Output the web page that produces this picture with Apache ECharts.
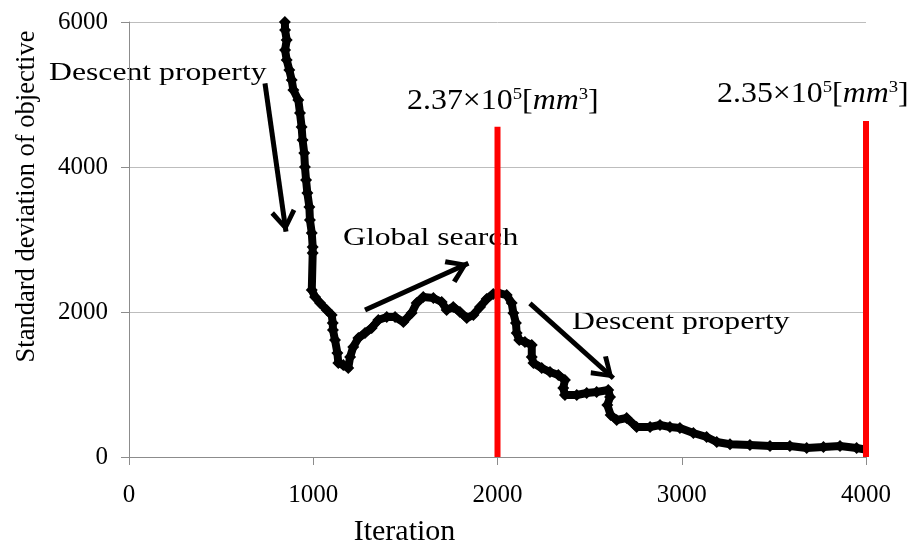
<!DOCTYPE html>
<html>
<head>
<meta charset="utf-8">
<script src="https://cdn.jsdelivr.net/npm/echarts@6/dist/echarts.min.js"></script>
<style>
html,body{margin:0;padding:0;background:#fff;}
#chart{width:918px;height:546px;}
</style>
</head>
<body>
<div id="chart"></div>
<script>
// ---- data ----
const iterations = [846,847,856,847,856,870,883,892,919,928,937,942,951,955,961,968,979,982,992,997,997,992,1010,1037,1073,1100,1106,1107,1118,1131,1136,1163,1190,1200,1217,1245,1281,1317,1353,1399,1444,1489,1534,1561,1597,1652,1697,1724,1760,1796,1833,1869,1905,1941,1977,2005,2050,2077,2086,2100,2104,2118,2149,2186,2186,2195,2240,2285,2330,2366,2357,2366,2430,2484,2538,2601,2611,2596,2614,2647,2701,2755,2828,2882,2936,2990,3063,3135,3190,3262,3370,3479,3587,3678,3769,3859,3949,4011];
const stdDev = [6000,5890,5752,5614,5476,5338,5200,5062,4924,4745,4552,4372,4193,4000,3821,3641,3448,3269,3090,2897,2814,2303,2207,2124,2028,1959,1848,1752,1614,1434,1297,1269,1228,1379,1517,1641,1710,1779,1890,1931,1931,1862,1986,2124,2207,2193,2138,2028,2069,2000,1917,1959,2069,2180,2250,2262,2234,2124,1986,1848,1710,1614,1586,1545,1379,1297,1228,1172,1131,1062,952,855,855,883,897,924,828,717,579,510,538,414,414,441,414,400,331,276,207,176,166,152,152,124,138,152,124,97];
// red markers: iteration and top value
const redIter = [2000, 4000];
const redTop = [4556, 4634];
// arrows: [from, to] in data coordinates
const arrowFrom = [[738,5154],[1281,2028],[2176,2120]];
const arrowTo = [[852,3108],[1842,2672],[2629,1086]];
// tick settings
const xTicks = {min:0, max:4000, interval:1000};
const yTicks = {min:0, max:6000, interval:2000};

const FONT = '"Liberation Serif","Times New Roman",serif';
const curve = iterations.map((x,i)=>[x, stdDev[i]]);
const chevron = 'path://M0,-22L0.01,-22L0,-22ZM0,0L13,19L9,22L0,8L-9,22L-13,19Z';

const chart = echarts.init(document.getElementById('chart'));
const redSeries = redIter.map((x,i)=>({
  type:'line', data:[[x,0],[x,redTop[i]]], symbol:'none', z:5,
  lineStyle:{color:'#ff0000', width:6}, silent:true
}));
const plain = v => String(v);

chart.setOption({
  animation:false,
  grid:{left:129, right:52, top:22, bottom:89, containLabel:false, outerBoundsMode:'none'},
  xAxis:{
    type:'value', min:xTicks.min, max:xTicks.max, interval:xTicks.interval,
    name:'Iteration', nameLocation:'middle', nameGap:60,
    nameTextStyle:{fontFamily:FONT, fontSize:30, color:'#000', padding:[0,186,0,0]},
    axisLine:{show:true, lineStyle:{color:'#8c8c8c', width:1}},
    axisTick:{show:true, length:8, lineStyle:{color:'#8c8c8c'}},
    axisLabel:{fontFamily:FONT, fontSize:25, color:'#000', margin:26, formatter:plain},
    splitLine:{show:false}
  },
  yAxis:{
    type:'value', min:yTicks.min, max:yTicks.max, interval:yTicks.interval,
    name:'Standard deviation of objective', nameLocation:'middle', nameGap:88, nameRotate:90,
    nameTextStyle:{fontFamily:FONT, fontSize:26.5, color:'#000', padding:[0,0,0,86]},
    axisLine:{show:true, lineStyle:{color:'#8c8c8c', width:1}},
    axisTick:{show:true, length:8, lineStyle:{color:'#8c8c8c'}},
    axisLabel:{fontFamily:FONT, fontSize:25, color:'#000', margin:21, formatter:plain},
    splitLine:{show:true, lineStyle:{color:'#bdbdbd', width:1}}
  },
  series:[
    {
      type:'line', data:curve, symbol:'diamond', symbolSize:12, showSymbol:true,
      itemStyle:{color:'#000'}, lineStyle:{color:'#000', width:8, join:'round'}, z:3, silent:true,
      markLine:{
        silent:true, animation:false,
        symbol:['none', chevron], symbolSize:[26,44],
        lineStyle:{color:'#000', width:5, type:'solid'},
        label:{show:false},
        data: arrowFrom.map((f,i)=>[{coord:f},{coord:arrowTo[i]}])
      }
    },
    ...redSeries
  ],
  graphic:[
    {type:'text', x:49, y:73, scaleX:1.22, style:{text:'Descent property', font:'26px '+FONT, fill:'#000', align:'left', verticalAlign:'middle'}},
    {type:'text', x:343, y:238, scaleX:1.22, style:{text:'Global search', font:'26px '+FONT, fill:'#000', align:'left', verticalAlign:'middle'}},
    {type:'text', x:572, y:322, scaleX:1.22, style:{text:'Descent property', font:'26px '+FONT, fill:'#000', align:'left', verticalAlign:'middle'}},
    {type:'text', x:407, y:101, scaleX:1.1, style:{
      text:'{m|2.37×10}{s|5}{m|[}{i|mm}{s|3}{m|]}', align:'left', verticalAlign:'middle',
      rich:{m:{fontFamily:FONT, fontSize:29, color:'#000', lineHeight:29},
            i:{fontFamily:FONT, fontSize:29, fontStyle:'italic', color:'#000', lineHeight:29},
            s:{fontFamily:FONT, fontSize:17, color:'#000', verticalAlign:'top', lineHeight:17}}
    }},
    {type:'text', x:717, y:94, scaleX:1.1, style:{
      text:'{m|2.35×10}{s|5}{m|[}{i|mm}{s|3}{m|]}', align:'left', verticalAlign:'middle',
      rich:{m:{fontFamily:FONT, fontSize:29, color:'#000', lineHeight:29},
            i:{fontFamily:FONT, fontSize:29, fontStyle:'italic', color:'#000', lineHeight:29},
            s:{fontFamily:FONT, fontSize:17, color:'#000', verticalAlign:'top', lineHeight:17}}
    }}
  ]
});
</script>
</body>
</html>
